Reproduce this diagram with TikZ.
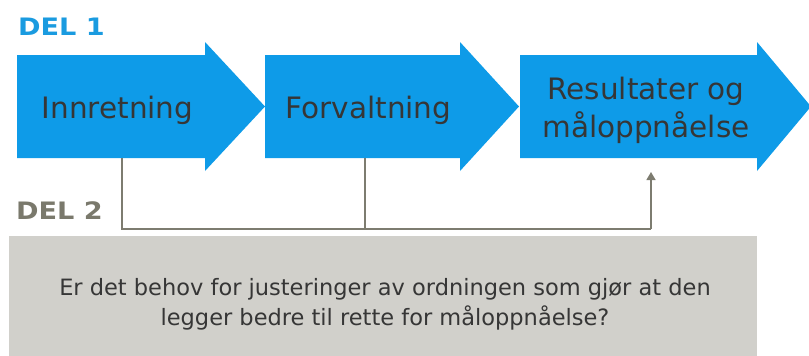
\documentclass[tikz,border=0pt]{standalone}
\usepackage{fontspec}
\setmainfont{DejaVu Sans}
\usetikzlibrary{arrows.meta}
\definecolor{arrowblue}{HTML}{0E9BE8}
\definecolor{delblue}{HTML}{1A9BE0}
\definecolor{txtdark}{HTML}{363636}
\definecolor{boxgray}{HTML}{D1D0CB}
\definecolor{delgray}{HTML}{7A796C}
\definecolor{linegray}{HTML}{7D7C70}
\tikzset{
  arrowfill/.style={fill=arrowblue},
  lbl/.style={text=txtdark, font=\fontsize{29.5}{38}\selectfont, align=center, inner sep=0pt},
  delhead/.style={font=\bfseries\fontsize{24}{28}\selectfont, anchor=base west, inner sep=0pt},
  conn/.style={draw=linegray, line width=1.4pt},
}
\begin{document}
\begin{tikzpicture}[x=1pt,y=-1pt]
\useasboundingbox (0,0) rectangle (809,356);
% arrows
\fill[arrowfill] (17,55) -- (205,55) -- (205,42) -- (265,106.5) -- (205,171) -- (205,158) -- (17,158) -- cycle;
\fill[arrowfill] (265,55) -- (460,55) -- (460,42) -- (519,106.5) -- (460,171) -- (460,158) -- (265,158) -- cycle;
\fill[arrowfill] (520,55) -- (757,55) -- (757,42) -- (811,106.5) -- (757,171) -- (757,158) -- (520,158) -- cycle;
\node[lbl, anchor=base] (a1) at (117.5,118) {Innretning};
\node[lbl, anchor=base] (a2) at (368.5,118) {Forvaltning};
\node[lbl] (a3) at (646,110.5) {Resultater og\\måloppnåelse};
% headings
\node[delhead, text=delblue] (d1) at (18,35) {\scalebox{1.13}[1]{DEL 1}};
\node[delhead, text=delgray] (d2) at (16,219) {\scalebox{1.13}[1]{DEL 2}};
% gray box
\node[fill=boxgray, minimum width=748pt, minimum height=121pt, inner sep=0pt, anchor=north west] (q) at (9,236) {};
\node[text=txtdark, font=\fontsize{22.5}{30}\selectfont, align=center, inner sep=0pt] (qt) at (385,304) {Er det behov for justeringer av ordningen som gjør at den\\legger bedre til rette for måloppnåelse?};
% connectors
\coordinate (s1) at (122,158);
\coordinate (s2) at (365,158);
\coordinate (c1) at (122,229);
\coordinate (c2) at (365,229);
\coordinate (c3) at (651,229);
\coordinate (e3) at (651,172);
\draw[conn] (s1) -- (c1) -- (c3);
\draw[conn] (s2) -- (c2);
\draw[conn, -{Triangle[width=9pt,length=8pt]}] (c3) -- (e3);
\end{tikzpicture}
\end{document}
